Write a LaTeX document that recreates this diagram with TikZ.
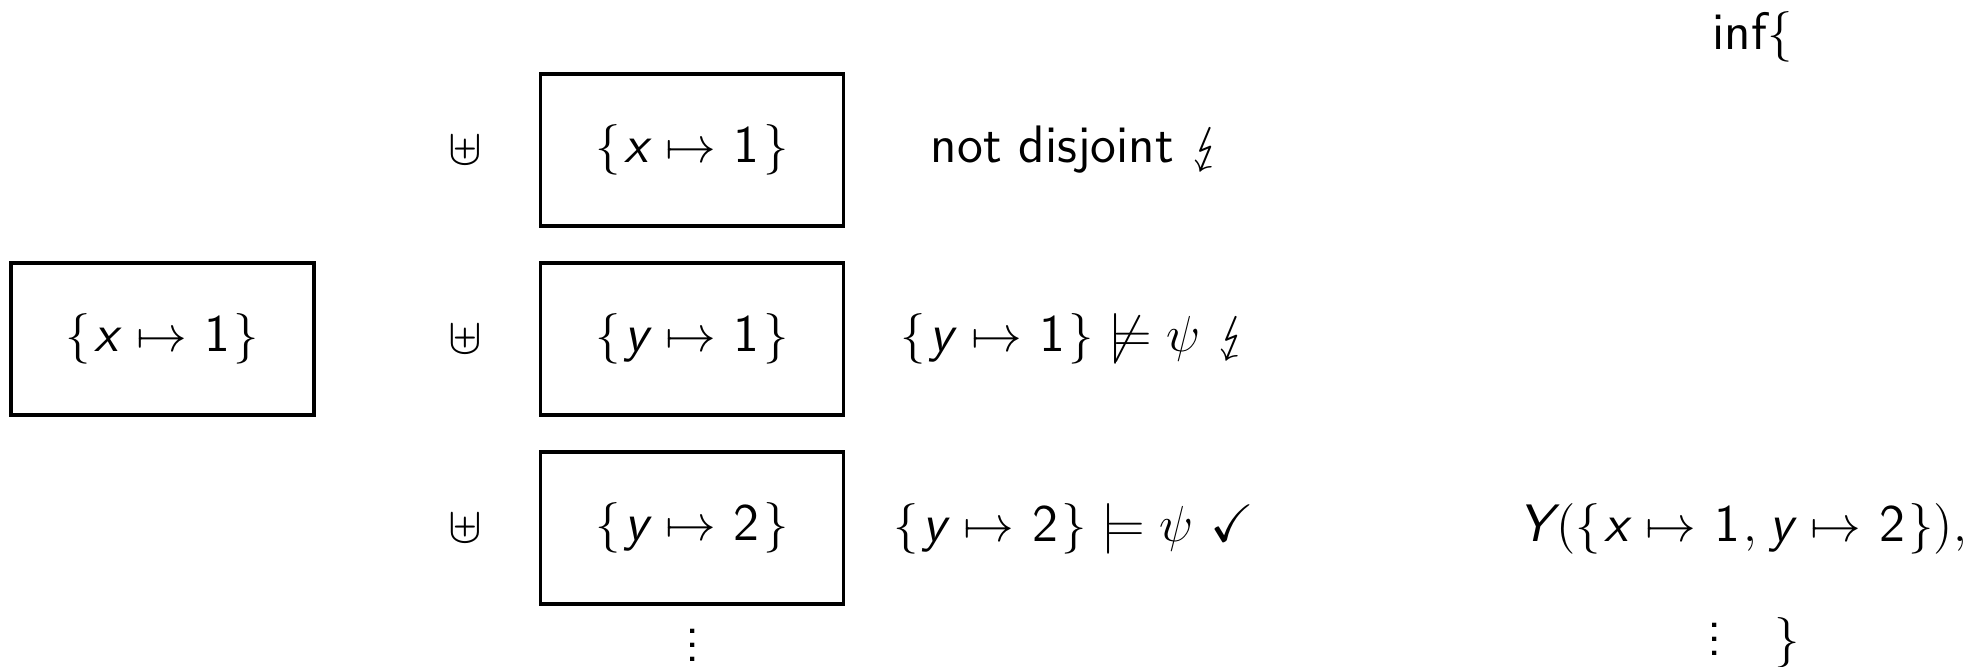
\documentclass[tikz,border=0pt]{standalone}
\usepackage{amssymb}
\usepackage{stmaryrd}
\newcommand{\sv}[1]{\mkern1.3mu\textsf{\slshape #1}\mkern1.3mu}
\newcommand{\sn}[1]{\mkern1.3mu\textsf{#1}\mkern1.3mu}
\newcommand{\asg}[2]{\{\sv{#1}\mapsto\sn{#2}\}}
\begin{document}
\begin{tikzpicture}[x=1cm,y=1cm,font=\fontsize{15}{18}\selectfont\sffamily]
	\tikzset{cell/.style={draw,line width=0.9pt,minimum width=3.03cm,minimum height=1.52cm}}
	\tikzset{lab/.style={anchor=base west,inner sep=0pt}}
	\useasboundingbox (0,0) rectangle (19.85,6.67);
	\node[cell] (lhs) at (1.625,3.28) {$\asg{x}{1}$};
	\foreach \y/\n/\v/\c in {5.17/1/x/1, 3.28/2/y/1, 1.39/3/y/2}{
		\node (u\n) at (4.65,\y) {$\uplus$};
		\node[cell] (c\n) at (6.92,\y) {$\asg{\v}{\c}$};
	}
	\node[anchor=base,inner sep=0pt] (bdots) at (6.93,0.05) {$\vdots$};
	% checks
	\node[lab] (l1) at (9.30,5.04) {not disjoint $\lightning$};
	\node[lab] (l2) at (9.00,3.15) {$\asg{y}{1}\not\models\psi\ \lightning$};
	\node[lab] (l3) at (8.93,1.25) {$\asg{y}{2}\models\psi\ \checkmark$};
	% infimum
	\node[lab] (inf) at (17.12,6.17) {inf$\{$};
	\node[lab] (yv) at (15.14,1.25) {$\sv{Y}(\{\sv{x}\mapsto\sn{1},\sv{y}\mapsto\sn{2}\}),$};
	\node[lab] (rdots) at (17.07,0.11) {$\vdots\quad\}$};
\end{tikzpicture}
\end{document}
